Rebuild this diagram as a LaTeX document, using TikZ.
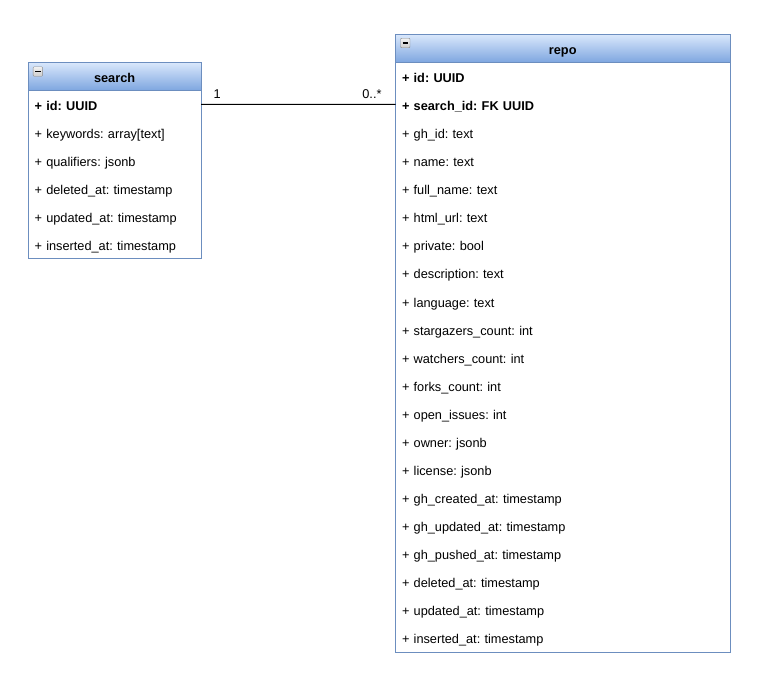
\documentclass[tikz,border=0pt]{standalone}
\usepackage{fontspec}
\setmainfont{Liberation Sans}
\usepackage{tikz}
\usetikzlibrary{positioning}
\frenchspacing
\definecolor{umlblue}{HTML}{6C8EBF}
\definecolor{headtop}{HTML}{DAE8FC}
\definecolor{headbot}{HTML}{7EA6E0}
\definecolor{icongray}{HTML}{8A8A8A}
\newcommand{\umlfont}{\fontsize{12.75pt}{15pt}\selectfont}
\tikzstyle{tablehead} = [rectangle, 
minimum height=28.08pt, 
inner sep=0pt, outer sep=0pt,
text height=12pt, text depth=0pt,
text centered, 
font=\umlfont\bfseries,
draw=umlblue, 
top color=headtop, bottom color=headbot]
\tikzstyle{field} = [rectangle, 
minimum height=28.08pt, 
inner xsep=6.5pt, inner ysep=0pt, outer sep=0pt,
text height=12pt, text depth=0pt,
align=left, 
font=\umlfont]
\tikzstyle{searchfield} = [field, text width=160pt]
\tikzstyle{repofield} = [field, text width=321.5pt]
\tikzstyle{tablebox} = [draw=umlblue, line width=1pt]
\tikzstyle{collapse} = [draw=icongray, top color=gray!10, bottom color=gray!40, rounded corners=1pt]
\tikzstyle{relation} = [line width=1pt, black]
\tikzstyle{mult} = [inner sep=0pt, font=\umlfont]

\begin{document}
\begin{tikzpicture}[x=1pt, y=-1pt, node distance=28.08pt]
        \useasboundingbox (0,0) rectangle (762,699);

        % search table
        \node (searchhead) [tablehead, minimum width=173pt] at (114.6,76.3) {search};
        \node (searchid) [searchfield, below of=searchhead] {\textbf{+ id: UUID}};
        \node (searchkw) [searchfield, below of=searchid] {+ keywords: array[text]};
        \node (searchqual) [searchfield, below of=searchkw] {+ qualifiers: jsonb};
        \node (searchdel) [searchfield, below of=searchqual] {+ deleted\_at: timestamp};
        \node (searchupd) [searchfield, below of=searchdel] {+ updated\_at: timestamp};
        \node (searchins) [searchfield, below of=searchupd] {+ inserted\_at: timestamp};
        \draw [tablebox] (searchhead.north west) rectangle (searchins.south east);
        \draw [tablebox] (searchhead.south west) -- (searchhead.south east);
        \draw [collapse] ([shift={(5pt,-4.5pt)}]searchhead.north west) rectangle +(9.5pt,-9.5pt);
        \draw [line width=1.3pt] ([shift={(7pt,-9.25pt)}]searchhead.north west) -- +(5.5pt,0pt);

        % repo table
        \node (repohead) [tablehead, minimum width=334.5pt] at (562.75,48.3) {repo};
        \node (repoid) [repofield, below of=repohead] {\textbf{+ id: UUID}};
        \node (reposearch) [repofield, below of=repoid] {\textbf{+ search\_id: FK UUID}};
        \node (repoghid) [repofield, below of=reposearch] {+ gh\_id: text};
        \node (reponame) [repofield, below of=repoghid] {+ name: text};
        \node (repofull) [repofield, below of=reponame] {+ full\_name: text};
        \node (repourl) [repofield, below of=repofull] {+ html\_url: text};
        \node (repopriv) [repofield, below of=repourl] {+ private: bool};
        \node (repodesc) [repofield, below of=repopriv] {+ description: text};
        \node (repolang) [repofield, below of=repodesc] {+ language: text};
        \node (repostars) [repofield, below of=repolang] {+ stargazers\_count: int};
        \node (repowatch) [repofield, below of=repostars] {+ watchers\_count: int};
        \node (repoforks) [repofield, below of=repowatch] {+ forks\_count: int};
        \node (repoissues) [repofield, below of=repoforks] {+ open\_issues: int};
        \node (repoowner) [repofield, below of=repoissues] {+ owner: jsonb};
        \node (repolic) [repofield, below of=repoowner] {+ license: jsonb};
        \node (repocreated) [repofield, below of=repolic] {+ gh\_created\_at: timestamp};
        \node (repoghupd) [repofield, below of=repocreated] {+ gh\_updated\_at: timestamp};
        \node (repopushed) [repofield, below of=repoghupd] {+ gh\_pushed\_at: timestamp};
        \node (repodel) [repofield, below of=repopushed] {+ deleted\_at: timestamp};
        \node (repoupd) [repofield, below of=repodel] {+ updated\_at: timestamp};
        \node (repoins) [repofield, below of=repoupd] {+ inserted\_at: timestamp};
        \draw [tablebox] (repohead.north west) rectangle (repoins.south east);
        \draw [tablebox] (repohead.south west) -- (repohead.south east);
        \draw [collapse] ([shift={(5pt,-4pt)}]repohead.north west) rectangle +(9.5pt,-9.5pt);
        \draw [line width=1.3pt] ([shift={(7pt,-8.75pt)}]repohead.north west) -- +(5.5pt,0pt);

        % relation
        \draw [relation] (searchid.east) -- (reposearch.west)
                node [mult, pos=0, anchor=base west, xshift=12pt, yshift=5.8pt] {1}
                node [mult, pos=1, anchor=base east, xshift=-13.5pt, yshift=5.8pt] {0..*};

        \end{tikzpicture}
\end{document}
